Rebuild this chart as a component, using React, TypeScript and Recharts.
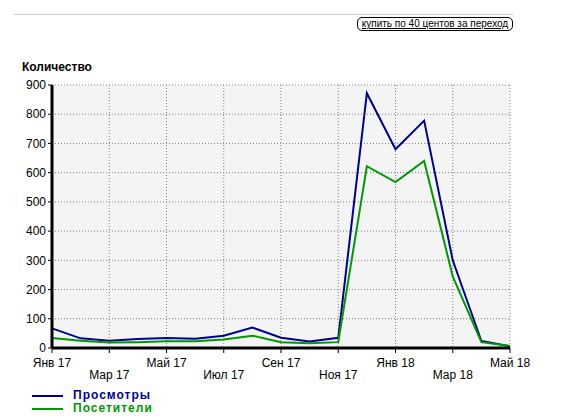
import React from 'react';
import { LineChart, Line, XAxis, YAxis, CartesianGrid } from 'recharts';

const months = ['Янв 17', 'Фев 17', 'Мар 17', 'Апр 17', 'Май 17', 'Июн 17', 'Июл 17', 'Авг 17', 'Сен 17', 'Окт 17', 'Ноя 17', 'Дек 17', 'Янв 18', 'Фев 18', 'Мар 18', 'Апр 18', 'Май 18'];
const views = [67, 33, 25, 31, 34, 32, 42, 70, 35, 22, 35, 872, 680, 778, 300, 24, 6];
const visitors = [34, 25, 19, 20, 23, 23, 29, 42, 20, 16, 20, 622, 568, 640, 245, 20, 7];
const yTicks = [0, 100, 200, 300, 400, 500, 600, 700, 800, 900];

const series = [
  { key: 'views', name: 'Просмотры', color: '#000099' },
  { key: 'visitors', name: 'Посетители', color: '#009900' },
];

const data = months.map((m, i) => ({ month: m, views: views[i], visitors: visitors[i] }));

const FONT = '"Liberation Sans", Arial, sans-serif';

const MonthTick = (props: any) => {
  const { x, y, payload } = props;
  const i = months.indexOf(payload.value);
  const row = (i / 2) % 2;
  return (
    <text x={x} y={y} dy={row === 0 ? 12 : 24} textAnchor="middle" fontSize={12} fill="#000" fontFamily={FONT}>
      {payload.value}
    </text>
  );
};

export default function App() {
  return (
    <div style={{ position: 'absolute', left: 0, top: 0, width: 577, height: 420, background: '#fff', fontFamily: FONT }}>
      <div style={{ position: 'absolute', left: 14, top: 14, width: 499, height: 0, borderTop: '1px solid #d0d0d0' }} />
      <div
        style={{
          position: 'absolute', left: 357, top: 17, width: 154, height: 12,
          border: '1px solid #000', borderRadius: 5, fontSize: 10, lineHeight: '12px',
          textAlign: 'center', textDecoration: 'underline', color: '#000',
        }}
      >
        купить по 40 центов за переход
      </div>
      <div style={{ position: 'absolute', left: 22, top: 60, fontSize: 12, fontWeight: 'bold', color: '#000' }}>
        Количество
      </div>
      <LineChart width={577} height={420} data={data} margin={{ top: 85, right: 67, left: 12, bottom: 32 }}>
        <CartesianGrid stroke="#808080" strokeDasharray="1 2" fill="#f4f4f4" ticks={undefined} />
        <XAxis
          dataKey="month"
          interval={1}
          height={40}
          tick={<MonthTick />}
          tickSize={5}
          tickLine={{ stroke: '#000', strokeWidth: 1 }}
          axisLine={{ stroke: '#000', strokeWidth: 3 }}
        />
        <YAxis
          width={40}
          domain={[0, 900]}
          ticks={yTicks}
          interval={0}
          tickSize={4}
          tickMargin={2}
          tick={{ fontSize: 12, fill: '#000', fontFamily: FONT }}
          tickLine={{ stroke: '#000', strokeWidth: 1 }}
          axisLine={{ stroke: '#000', strokeWidth: 3 }}
        />
        {series.map((s) => (
          <Line
            key={s.key}
            type="linear"
            dataKey={s.key}
            name={s.name}
            stroke={s.color}
            strokeWidth={2}
            dot={false}
            isAnimationActive={false}
          />
        ))}
      </LineChart>
      <div style={{ position: 'absolute', left: 32, top: 389 }}>
        {series.map((s) => (
          <div key={s.key} style={{ display: 'flex', alignItems: 'center', height: 13 }}>
            <div style={{ width: 31, height: 0, borderTop: `2px solid ${s.color}` }} />
            <span style={{ marginLeft: 10, fontSize: 12, fontWeight: 'bold', letterSpacing: 1, color: s.color, lineHeight: '13px' }}>
              {s.name}
            </span>
          </div>
        ))}
      </div>
    </div>
  );
}
